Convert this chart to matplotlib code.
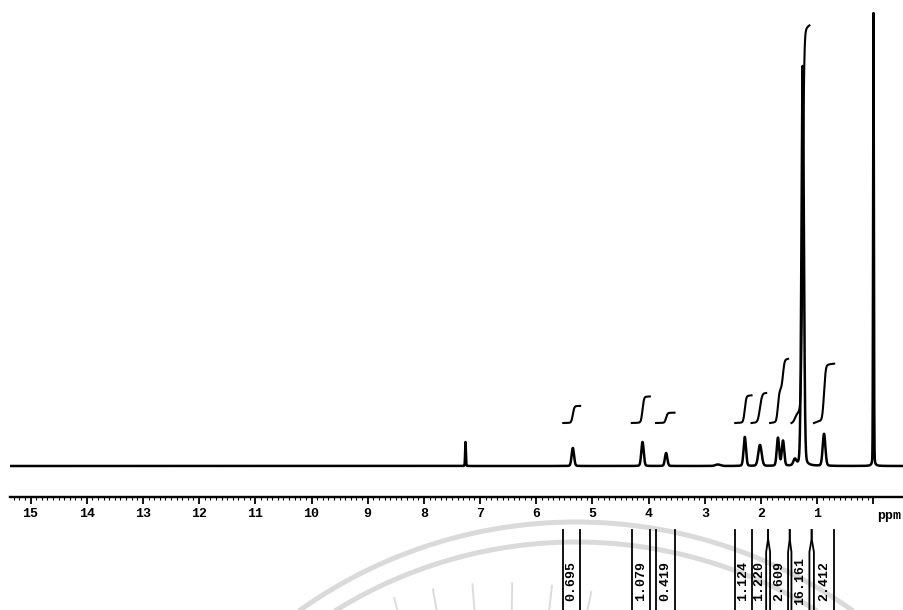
import numpy as np
import matplotlib
matplotlib.use("Agg")
import matplotlib.pyplot as plt

# 1H NMR spectrum (CDCl3) -- peak list: shift (ppm), height (a.u.), half-width (ppm)
peak_ppm    = [7.26, 5.35, 4.11, 3.69, 2.77, 2.29, 2.02, 1.70, 1.61, 1.40, 1.26, 0.88, 0.00]
peak_height = [24.0, 18.0, 24.0, 13.0, 1.5, 29.0, 21.0, 28.0, 25.0, 6.0, 400.0, 32.0, 453.0]
peak_hwhm   = [0.008, 0.025, 0.025, 0.025, 0.05, 0.025, 0.035, 0.025, 0.025, 0.03, 0.025, 0.028, 0.008]

# integration regions (ppm, high -> low) and their integral values
integral_hi  = [5.52, 4.30, 3.87, 2.46, 2.17, 1.84, 1.46, 1.06]
integral_lo  = [5.22, 3.98, 3.54, 2.17, 1.91, 1.52, 1.14, 0.70]
integral_val = [0.695, 1.079, 0.419, 1.124, 1.220, 2.609, 16.161, 2.412]

tick_values = list(range(1, 16))
tick_labels = [str(v) for v in tick_values]

W, H = 904, 610
fig = plt.figure(figsize=(W / 100, H / 100), dpi=100)
fig.patch.set_facecolor("white")

# faint seal watermark behind everything
bg = fig.add_axes([0, 0, 1, 1], zorder=0)
bg.set_xlim(0, W)
bg.set_ylim(H, 0)
bg.axis("off")
t = np.linspace(0, np.pi, 400)
for r in (476, 456):
    bg.plot(576 + r * np.cos(t), 998 - r * np.sin(t), color="#dadada", lw=3.6,
            solid_capstyle="butt")
for ang in np.deg2rad(np.arange(78, 106, 5.5)):
    rr = np.array([360, 415])
    bg.plot(505 + rr * np.cos(ang), 998 - rr * np.sin(ang), color="#dcdcdc", lw=1.4)

# spectrum axes (ppm scale runs right to left)
x_left, x_right = 15.365, -0.543
ax = fig.add_axes([10 / W, 113 / H, 894 / W, 497 / H], zorder=2)
ax.patch.set_alpha(0)
ax.set_xlim(x_left, x_right)
ax.set_ylim(-31, 466)

# pseudo-Voigt line shape, mostly Gaussian
eta = 0.12
ppm = np.linspace(x_left, x_right, 40000)
spec = np.zeros_like(ppm)
for c, h, w in zip(peak_ppm, peak_height, peak_hwhm):
    d = ppm - c
    lor = w**2 / (d**2 + w**2)
    gau = np.exp(-np.log(2) * (d / w) ** 2)
    spec += h * (eta * lor + (1 - eta) * gau)
ax.plot(ppm, spec, color="black", lw=1.8, solid_joinstyle="round")

# integral curves
int_offset, int_scale = 43.0, 24.6
for hi, lo, val in zip(integral_hi, integral_lo, integral_val):
    m = (ppm <= hi) & (ppm >= lo)
    cum = np.cumsum(spec[m])
    cum = (cum - cum[0]) / (cum[-1] - cum[0])
    ax.plot(ppm[m], int_offset + val * int_scale * cum, color="black", lw=1.5)

for s in ("top", "left", "right"):
    ax.spines[s].set_visible(False)
ax.spines["bottom"].set_linewidth(1.7)
ax.set_yticks([])
ax.set_xticks([0] + tick_values)
ax.set_xticklabels([""] + tick_labels)
ax.set_xticks(np.arange(0, 15.4, 0.1), minor=True)
ax.tick_params(axis="x", which="major", direction="out", length=5, width=1.3, pad=3)
ax.tick_params(axis="x", which="minor", direction="out", length=2, width=0.8)
for lbl in ax.get_xticklabels():
    lbl.set_fontfamily("Liberation Mono")
    lbl.set_fontweight("bold")
    lbl.set_fontsize(9.5)

fig.text(877 / W, 1 - 516 / H, "ppm", fontsize=9.5, fontweight="bold",
         family="Liberation Mono", ha="left", va="center")

# integral value strip under the scale
lab = fig.add_axes([10 / W, 0, 894 / W, 110 / H], zorder=2, sharex=ax)
lab.patch.set_alpha(0)
lab.set_ylim(0, 1)
lab.axis("off")
y_top, y_split, y_text = (610 - 530) / 110, (610 - 552) / 110, (610 - 581) / 110

edges = sorted(set(integral_hi + integral_lo), reverse=True)
paired = set()
for a, b in zip(edges[:-1], edges[1:]):
    if a - b < 0.1:
        mid = 0.5 * (a + b)
        for e in (a, b):
            lab.plot([mid, mid, e, e], [y_top, y_top - 0.08, y_split, -0.05],
                     color="black", lw=1.3, clip_on=False)
        paired.update((a, b))
for e in edges:
    if e not in paired:
        lab.plot([e, e], [y_top, -0.05], color="black", lw=1.3, clip_on=False)

for hi, lo, val in zip(integral_hi, integral_lo, integral_val):
    lab.text(0.5 * (hi + lo), y_text, f"{val:.3f}", rotation=90, ha="center",
             va="center", fontsize=9.5, fontweight="bold", family="Liberation Mono")

fig.savefig("out.png", dpi=100)
